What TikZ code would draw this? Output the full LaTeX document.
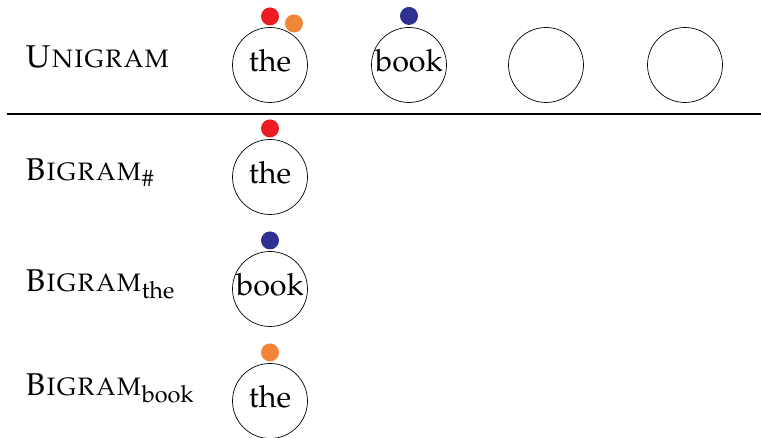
\documentclass[tikz,border=0pt]{standalone}
\usepackage[T1]{fontenc}
\usepackage{mathpazo}
\usepackage{tikz}
\usetikzlibrary{positioning,calc}
\DeclareMathSizes{31.5}{31.5}{23.5}{17}
\definecolor{dotred}{RGB}{237,28,36}
\definecolor{dotorange}{RGB}{242,133,55}
\definecolor{dotblue}{RGB}{46,49,146}

\begin{document}
\begin{tikzpicture}[x=1pt, y=1pt,
  word/.style={draw, circle, line width=0.7pt, minimum size=75pt, inner sep=0pt,
               text height=20pt, text depth=6pt, font=\fontsize{30.5}{36}\selectfont},
  lab/.style={anchor=base west, inner sep=0pt, font=\fontsize{31.5}{38}\selectfont},
  dot/.style={circle, inner sep=0pt, minimum size=18pt}]
  \useasboundingbox (0,0) rectangle (761,438);
  \node[lab] (uni) at (25,370) {\textsc{Unigram}};
  \node[word] (u1) at (270,373) {the};
  \node[word] (u2) at (409,373) {book};
  \node[word] (u3) at (546,373) {};
  \node[word] (u4) at (685,373) {};
  \node[dot, fill=dotred, above=1.5pt of u1]  (ur) {};
  \node[dot, fill=dotorange] (uo) at ($(u1)+(60:48)$) {};
  \node[dot, fill=dotblue, above=2pt of u2] (ub) {};
  \coordinate (sl) at (7,324); \coordinate (sr) at (761,324);
  \draw[line width=1.4pt] (sl) -- (sr);
  \node[lab] (bg1) at (25,257) {\textsc{Bigram}$_{\#}$};
  \node[lab] (bg2) at (25,146) {\textsc{Bigram}$_{\mathrm{the}}$};
  \node[lab] (bg3) at (25,42)  {\textsc{Bigram}$_{\mathrm{book}}$};
  \node[word] (b1) at (270,261) {the};
  \node[word] (b2) at (270,149) {book};
  \node[word] (b3) at (270,37)  {the};
  \node[dot, fill=dotred, above=1.5pt of b1]    (br) {};
  \node[dot, fill=dotblue, above=1.5pt of b2]   (bb) {};
  \node[dot, fill=dotorange, above=1.5pt of b3] (bo) {};
\end{tikzpicture}
\end{document}
